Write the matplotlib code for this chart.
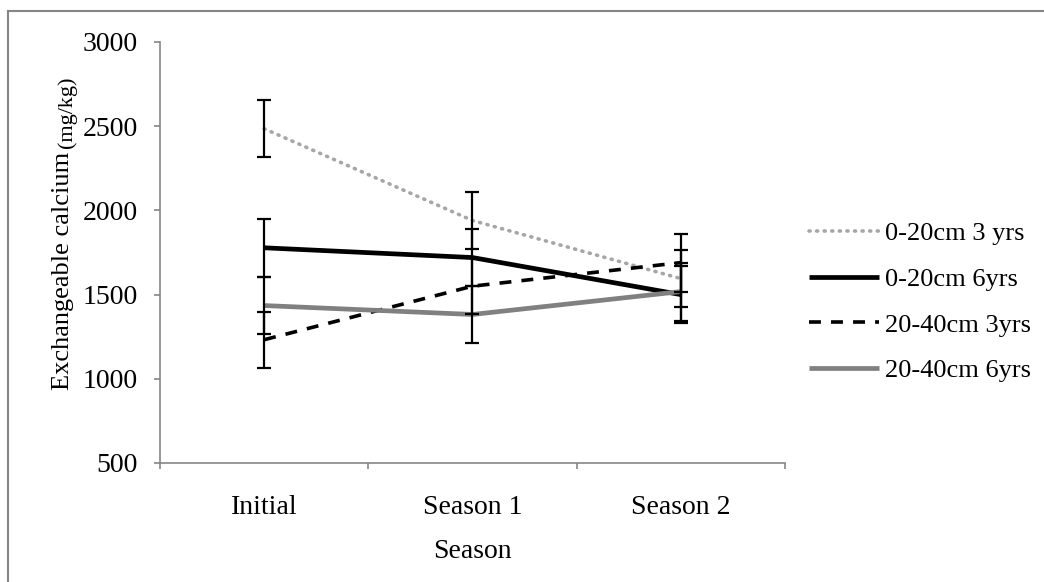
import numpy as np
import matplotlib
matplotlib.use("Agg")
import matplotlib.pyplot as plt
from matplotlib.lines import Line2D

# data
seasons = ["Initial", "Season 1", "Season 2"]
labels = ["0-20cm 3 yrs", "0-20cm 6yrs", "20-40cm 3yrs", "20-40cm 6yrs"]
ca_0_20_3yrs = [2485, 1940, 1595]
ca_0_20_6yrs = [1778, 1720, 1500]
ca_20_40_3yrs = [1232, 1550, 1690]
ca_20_40_6yrs = [1435, 1382, 1518]
err_0_20_3yrs = [170, 168, 170]
err_0_20_6yrs = [172, 168, 170]
err_20_40_3yrs = [167, 168, 172]
err_20_40_6yrs = [170, 170, 172]

plt.rcParams['font.family'] = ['Liberation Serif', 'DejaVu Serif']

fig = plt.figure(figsize=(10.44, 5.82), dpi=100)
ax = fig.add_axes([160 / 1044, 1 - 463 / 582, 625 / 1044, 421 / 582])

x = np.arange(len(seasons))
series = [
    (ca_0_20_3yrs, err_0_20_3yrs, dict(color='#A6A6A6', lw=2.6, linestyle=(0, (0.3, 1.8)), dash_capstyle='round')),
    (ca_0_20_6yrs, err_0_20_6yrs, dict(color='black', lw=3.4, linestyle='-')),
    (ca_20_40_3yrs, err_20_40_3yrs, dict(color='black', lw=2.6, linestyle=(0, (3.3, 2.8)))),
    (ca_20_40_6yrs, err_20_40_6yrs, dict(color='#808080', lw=3.4, linestyle='-')),
]

handles = []
for (vals, errs, style), lab in zip(series, labels):
    ax.plot(x, vals, zorder=2, solid_capstyle='butt', **style)
    ax.errorbar(x, vals, yerr=errs, fmt='none', ecolor='black', elinewidth=1.6,
                capsize=5, capthick=1.6, zorder=3)
    handles.append(Line2D([0], [0], **style, solid_capstyle='butt', label=lab))

# axes styling (Excel look)
ax.set_ylim(500, 3000)
ax.set_yticks(np.arange(500, 3001, 500))
ax.set_xlim(-0.5, 2.5)
ax.set_xticks(x)
ax.set_xticklabels(seasons)
ax.set_xticks(np.arange(-0.5, 2.6, 1), minor=True)
for s in ['top', 'right']:
    ax.spines[s].set_visible(False)
for s in ['left', 'bottom']:
    ax.spines[s].set_color('#868686')
    ax.spines[s].set_linewidth(1.2)
ax.tick_params(axis='y', direction='out', length=4, width=1.2, color='#868686', labelsize=20, pad=12)
ax.tick_params(axis='x', which='major', length=0, labelsize=20, pad=23)
ax.tick_params(axis='x', which='minor', direction='out', length=4, width=1.2, color='#868686')
ax.set_xlabel("Season", fontsize=20, labelpad=14)

# y label: two sizes
t1 = fig.text(63 / 1044, 1 - 390 / 582, "Exchangeable calcium", rotation=90,
              ha='center', va='bottom', fontsize=19)
fig.canvas.draw()
bb = t1.get_window_extent()
fig.text(67 / 1044, (bb.y1 + 4) / 582, "(mg/kg)", rotation=90,
         ha='center', va='bottom', fontsize=16)

ax.legend(handles=handles, loc='center left', bbox_to_anchor=(785 / 1044, 1 - 302 / 582),
          bbox_transform=fig.transFigure, frameon=False, fontsize=19,
          handlelength=2.65, handletextpad=0.25, labelspacing=0.84)

# outer chart border (top and left edges visible)
fig.add_artist(Line2D([8 / 1044, 1], [1 - 11 / 582, 1 - 11 / 582], color='#868686', lw=1.5,
                      transform=fig.transFigure))
fig.add_artist(Line2D([8 / 1044, 8 / 1044], [0, 1 - 11 / 582], color='#868686', lw=1.5,
                      transform=fig.transFigure))

fig.savefig("out.png", dpi=100)
